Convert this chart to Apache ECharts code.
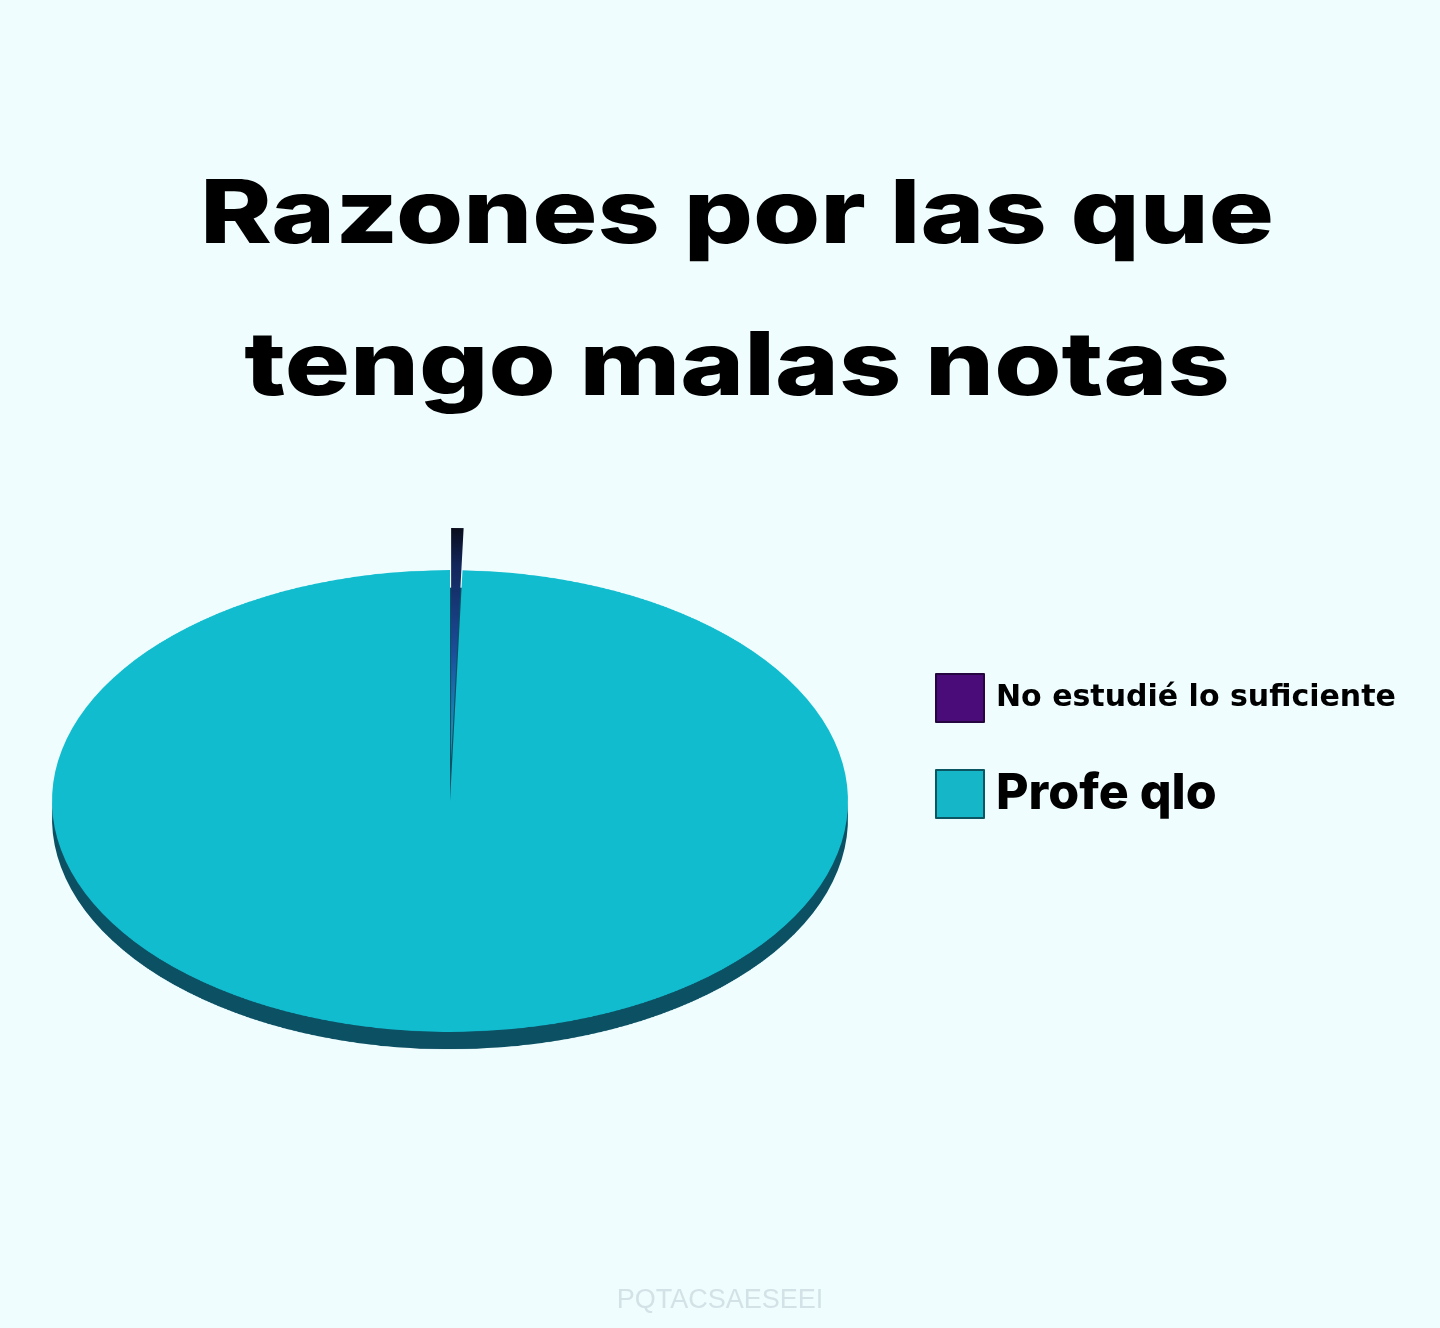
<!DOCTYPE html>
<html><head><meta charset="utf-8">
<script src="https://cdn.jsdelivr.net/npm/echarts@6/dist/echarts.min.js"></script>
<style>
html,body{margin:0;padding:0;background:#effdfe;}
#wrap{position:relative;width:1440px;height:1328px;overflow:hidden;background:#effdfe;}
#pie{position:absolute;left:0;top:201px;width:900px;height:1200px;transform:scaleY(0.58);transform-origin:50% 50%;}
#main{position:absolute;left:0;top:0;width:1440px;height:1328px;}
</style></head><body>
<div id="wrap"><div id="pie"></div><div id="main"></div></div>
<script>
const titleLines = ['Razones por las que', 'tengo malas notas'];
const categories = ['No estudié lo suficiente', 'Profe qlo'];
const values = [0.5, 99.5];
const watermark = 'PQTACSAESEEI';

const FONT = 'Inter, "Noto Sans", sans-serif';
const legendFill = ['#4a0c78', '#14b6c8'];
const legendBorder = ['#250640', '#0a5663'];
const topColors = [
  new echarts.graphic.LinearGradient(0, 0, 0, 1, [
    {offset: 0, color: '#0a0d1c'},
    {offset: 0.16, color: '#13265a'},
    {offset: 0.55, color: '#1b4f9c'},
    {offset: 1, color: '#16a9c9'}
  ]),
  '#12bccf'
];

const pieChart = echarts.init(document.getElementById('pie'), null, {renderer: 'canvas'});
pieChart.setOption({
  animation: false,
  series: [
    {
      type: 'pie', name: 'rim', radius: 398, center: [450, 630], startAngle: 90,
      silent: true, label: {show: false}, labelLine: {show: false},
      itemStyle: {borderWidth: 0},
      data: categories.map((n, i) => ({name: n, value: values[i], itemStyle: {color: '#0c5064'}}))
    },
    {
      type: 'pie', name: 'top', radius: 398, center: [450, 600], startAngle: 90,
      selectedMode: 'single', selectedOffset: 73, silent: true,
      label: {show: false}, labelLine: {show: false},
      itemStyle: {borderWidth: 0},
      data: categories.map((n, i) => ({name: n, value: values[i], selected: i === 0, itemStyle: {color: topColors[i]}}))
    }
  ]
});

const main = echarts.init(document.getElementById('main'), null, {renderer: 'canvas'});
main.setOption({
  animation: false,
  backgroundColor: 'transparent',
  legend: {
    orient: 'vertical', left: 930, top: 668,
    itemWidth: 48, itemHeight: 48, itemGap: 46, icon: 'rect', selectedMode: false,
    data: categories.map((n, i) => ({name: n, itemStyle: {color: legendFill[i], borderColor: legendBorder[i], borderWidth: 2}})),
    formatter: name => name === categories[1] ? '{big|' + name + '}' : '{small|' + name + '}',
    textStyle: {
      rich: {
        small: {fontFamily: '"DejaVu Sans", Inter, sans-serif', fontWeight: 'bold', fontSize: 30, lineHeight: 48, color: '#000', padding: [0, 0, 0, 7]},
        big: {fontFamily: FONT, fontWeight: 800, fontSize: 50, lineHeight: 48, color: '#000', padding: [0, 0, 0, 7]}
      }
    }
  },
  graphic: [
    {
      type: 'text', x: 737, y: 141, scaleX: 1.235, silent: true,
      style: {
        text: titleLines.join('\n'), align: 'center', verticalAlign: 'top',
        fontFamily: FONT, fontWeight: 800, fontSize: 88, lineHeight: 152, fill: '#000'
      }
    },
    {
      type: 'text', left: 'center', top: 1287, silent: true,
      style: {text: watermark, font: '27px "Liberation Sans", Arial, sans-serif', fill: '#d3e2e6'}
    }
  ],
  series: [{
    type: 'pie', radius: [0, 0], center: [450, 801], silent: true,
    label: {show: false}, labelLine: {show: false},
    data: categories.map((n, i) => ({name: n, value: values[i], itemStyle: {color: legendFill[i]}}))
  }]
});
</script>
</body></html>
